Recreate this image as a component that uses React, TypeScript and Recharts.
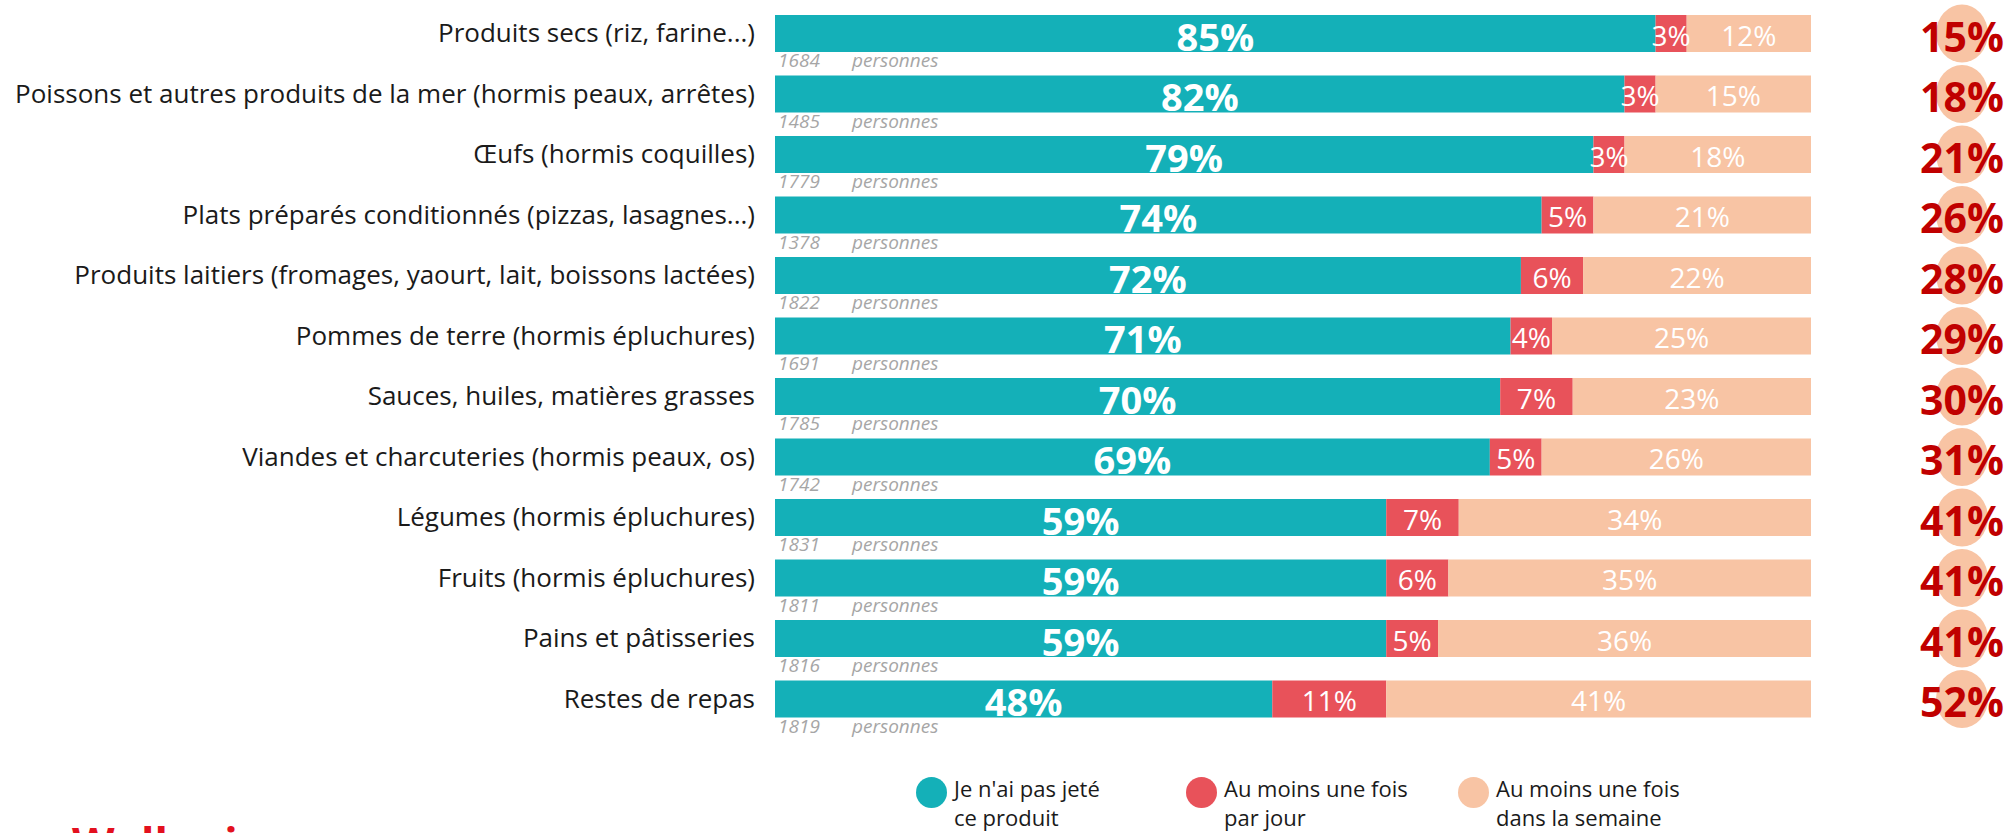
import { BarChart, Bar, XAxis, YAxis, LabelList } from "recharts";

const CATEGORIES = [
  "Produits secs (riz, farine...)",
  "Poissons et autres produits de la mer (hormis peaux, arrêtes)",
  "Œufs (hormis coquilles)",
  "Plats préparés conditionnés (pizzas, lasagnes...)",
  "Produits laitiers (fromages, yaourt, lait, boissons lactées)",
  "Pommes de terre (hormis épluchures)",
  "Sauces, huiles, matières grasses",
  "Viandes et charcuteries (hormis peaux, os)",
  "Légumes (hormis épluchures)",
  "Fruits (hormis épluchures)",
  "Pains et pâtisseries",
  "Restes de repas"
];
const NOT_THROWN = [85, 82, 79, 74, 72, 71, 70, 69, 59, 59, 59, 48];
const DAILY = [3, 3, 3, 5, 6, 4, 7, 5, 7, 6, 5, 11];
const WEEKLY = [12, 15, 18, 21, 22, 25, 23, 26, 34, 35, 36, 41];
const TOTAL_THROWN = [15, 18, 21, 26, 28, 29, 30, 31, 41, 41, 41, 52];
const RESPONDENTS = [1684, 1485, 1779, 1378, 1822, 1691, 1785, 1742, 1831, 1811, 1816, 1819];

const SERIES = [
  { key: "notThrown", label: ["Je n'ai pas jeté", "ce produit"], color: "#14b0b8" },
  { key: "daily", label: ["Au moins une fois", "par jour"], color: "#e8525a" },
  { key: "weekly", label: ["Au moins une fois", "dans la semaine"], color: "#f8c4a4" }
];

const FONT = "'Segoe UI', 'Open Sans', sans-serif";

const data = CATEGORIES.map((name, i) => ({
  name,
  notThrown: NOT_THROWN[i],
  daily: DAILY[i],
  weekly: WEEKLY[i],
  total: TOTAL_THROWN[i],
  n: RESPONDENTS[i]
}));

const CategoryTick = ({ x, y, payload }: any) => (
  <text x={x - 12} y={y - 1} textAnchor="end" dominantBaseline="central" fontSize={26} fill="#1a1a1a" fontFamily={FONT}>
    {payload.value}
  </text>
);

const bigLabel = ({ x, y, width, height, value }: any) => (
  <text x={x + width / 2} y={y + height / 2 + 2} textAnchor="middle" dominantBaseline="central" fill="#fff" fontWeight="bold" fontSize={38} fontFamily={FONT}>
    {value}%
  </text>
);

const smallLabel = ({ x, y, width, height, value }: any) => (
  <text x={x + width / 2} y={y + height / 2 + 1} textAnchor="middle" dominantBaseline="central" fill="#fff" fontSize={28} fontFamily={FONT}>
    {value}%
  </text>
);

const respondentsLabel = ({ x, y, height, value }: any) => (
  <g fontStyle="italic" fontSize={19} fill="#a6a6a6" fontFamily={FONT}>
    <text x={x + 3} y={y + height + 15}>{value}</text>
    <text x={x + 77} y={y + height + 15}>personnes</text>
  </g>
);

const totalLabel = ({ x, y, width, height, value }: any) => {
  const cx = x + width + 151;
  const cy = y + height / 2;
  return (
    <g>
      <ellipse cx={cx} cy={cy} rx={26} ry={29} fill="#f8c4a4" />
      <text x={cx} y={cy + 2} textAnchor="middle" dominantBaseline="central" fill="#c00000" fontWeight="bold" fontSize={41} fontFamily={FONT}>
        {value}%
      </text>
    </g>
  );
};

const Legend = () => (
  <div style={{ position: "absolute", top: 774, left: 0, width: 2006, fontFamily: FONT, fontSize: 22, color: "#1a1a1a" }}>
    {SERIES.map((s, i) => (
      <div key={s.key} style={{ position: "absolute", left: [916, 1186, 1458][i], top: 0, display: "flex" }}>
        <div style={{ width: 31, height: 31, borderRadius: "50%", background: s.color, marginRight: 7, marginTop: 3 }} />
        <div style={{ lineHeight: "29px" }}>
          {s.label.map((l) => (
            <div key={l}>{l}</div>
          ))}
        </div>
      </div>
    ))}
  </div>
);

export default function App() {
  return (
    <div style={{ position: "absolute", left: 0, top: 0, width: 2006, height: 833, background: "#fff", overflow: "hidden" }}>
      <BarChart width={2006} height={833} data={data} layout="vertical" margin={{ top: 3, right: 195, left: 0, bottom: 104 }} barSize={37}>
        <XAxis type="number" domain={[0, 100]} hide />
        <YAxis type="category" dataKey="name" width={775} axisLine={false} tickLine={false} tick={<CategoryTick />} interval={0} />
        <Bar dataKey="notThrown" stackId="a" fill={SERIES[0].color} isAnimationActive={false}>
          <LabelList dataKey="notThrown" content={bigLabel} />
          <LabelList dataKey="n" content={respondentsLabel} />
        </Bar>
        <Bar dataKey="daily" stackId="a" fill={SERIES[1].color} isAnimationActive={false}>
          <LabelList dataKey="daily" content={smallLabel} />
        </Bar>
        <Bar dataKey="weekly" stackId="a" fill={SERIES[2].color} isAnimationActive={false}>
          <LabelList dataKey="weekly" content={smallLabel} />
          <LabelList dataKey="total" content={totalLabel} />
        </Bar>
      </BarChart>
      <Legend />
      <div style={{ position: "absolute", left: 72, top: 813, fontFamily: FONT, fontWeight: "bold", fontSize: 44, color: "#e3101e" }}>
        Wallonie
      </div>
    </div>
  );
}
